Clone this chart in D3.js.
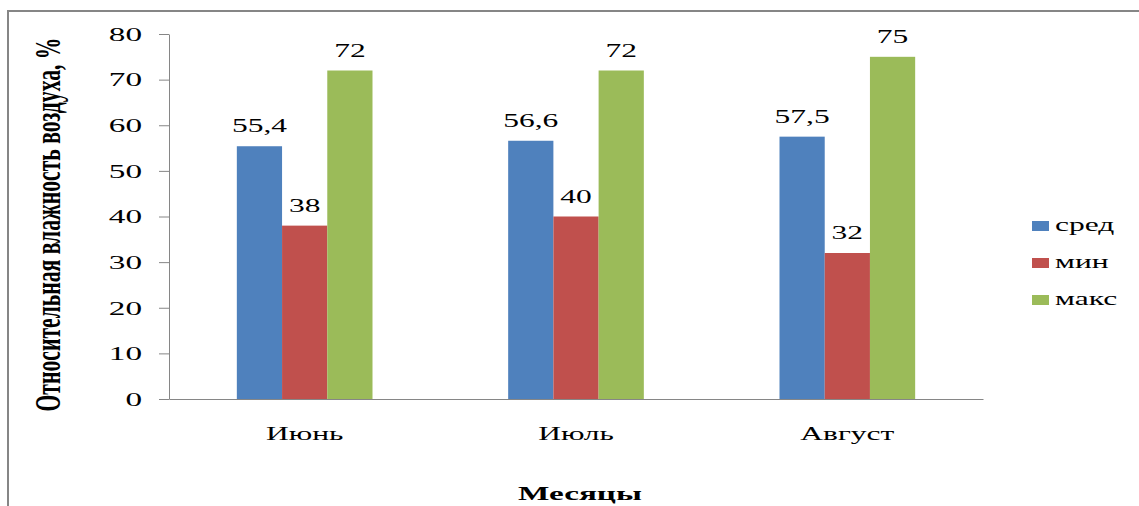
<!DOCTYPE html>
<html>
<head>
<meta charset="utf-8">
<script src="https://cdn.jsdelivr.net/npm/d3@7"></script>
<style>
  html, body { margin: 0; padding: 0; background: #fff; }
  svg { display: block; }
</style>
</head>
<body>
<svg id="chart" width="1139" height="506"></svg>
<script>
const months = ["Июнь", "Июль", "Август"];
const seriesNames = ["сред", "мин", "макс"];
const sredValues = [55.4, 56.6, 57.5];
const minValues = [38, 40, 32];
const maxValues = [72, 72, 75];
const yTicks = [0, 10, 20, 30, 40, 50, 60, 70, 80];
const colors = ["#4F81BD", "#C0504D", "#9BBB59"];
const yTitle = "Относительная влажность воздуха, %";
const xTitle = "Месяцы";

const SX = 1.75; // horizontal stretch of the original picture
const FONT = "'Liberation Serif', 'Times New Roman', Times, serif";

const svg = d3.select("#chart");
const allSeries = [sredValues, minValues, maxValues];

// outer border
svg.append("rect")
  .attr("x", 8).attr("y", 11)
  .attr("width", 1160).attr("height", 520)
  .attr("fill", "none").attr("stroke", "#868686").attr("stroke-width", 2);

const plotLeft = 169, plotRight = 983, plotTop = 34, plotBottom = 399;

const y = d3.scaleLinear().domain([0, 80]).range([plotBottom, plotTop]);
const x = d3.scaleBand().domain(months).range([plotLeft, plotRight]).padding(0);
const x1 = d3.scaleBand().domain(seriesNames)
  .range([x.bandwidth() * 0.25, x.bandwidth() * 0.75]).padding(0);

// y axis
const yAxis = svg.append("g")
  .attr("transform", `translate(${plotLeft},0)`)
  .call(d3.axisLeft(y).tickValues(yTicks).tickSize(10).tickSizeOuter(0));
yAxis.attr("font-family", FONT);
yAxis.select(".domain").attr("stroke", "#868686");
yAxis.selectAll(".tick line").attr("stroke", "#868686");
yAxis.selectAll(".tick text")
  .attr("font-family", FONT)
  .attr("font-size", 19)
  .attr("fill", "#000")
  .attr("x", -27 / SX)
  .attr("dy", "0.33em")
  .attr("transform", `scale(${SX},1)`);

// x axis
const xAxis = svg.append("g")
  .attr("transform", `translate(0,${plotBottom})`)
  .call(d3.axisBottom(x).tickSize(0).tickSizeOuter(0));
xAxis.select(".domain").attr("stroke", "#868686");
xAxis.selectAll(".tick text").remove();

// bars
const groups = svg.append("g").selectAll("g")
  .data(months).join("g")
  .attr("transform", d => `translate(${x(d)},0)`);

groups.selectAll("rect")
  .data((m, i) => seriesNames.map((s, j) => ({ s, v: allSeries[j][i], c: colors[j] })))
  .join("rect")
  .attr("x", d => x1(d.s))
  .attr("width", x1.bandwidth())
  .attr("y", d => y(d.v))
  .attr("height", d => y(0) - y(d.v))
  .attr("fill", d => d.c);

function stretchedText(g, px, py, str, opts = {}) {
  return g.append("text")
    .attr("transform", `translate(${px},${py}) scale(${SX},1)`)
    .attr("text-anchor", opts.anchor || "middle")
    .attr("font-size", opts.size || 18)
    .attr("font-weight", opts.weight || "normal")
    .attr("font-family", FONT)
    .attr("fill", "#000")
    .text(str);
}

// data labels
const labelsG = svg.append("g");
months.forEach((m, i) => {
  seriesNames.forEach((s, j) => {
    const v = allSeries[j][i];
    const cx = x(m) + x1(s) + x1.bandwidth() / 2;
    stretchedText(labelsG, cx, y(v) - 14, String(v).replace(".", ","));
  });
});

// category labels
months.forEach(m => {
  stretchedText(svg, x(m) + x.bandwidth() / 2, 440, m);
});

// x title
stretchedText(svg, (plotLeft + plotRight) / 2 + 4, 500, xTitle, { weight: "bold", size: 19 });

// y title
svg.append("text")
  .attr("transform", `translate(60,${(plotTop + plotBottom) / 2 + 8}) scale(${SX},1) rotate(-90)`)
  .attr("text-anchor", "middle")
  .attr("font-size", 20)
  .attr("font-weight", "bold")
  .attr("font-family", FONT)
  .attr("fill", "#000")
  .attr("textLength", 374)
  .attr("lengthAdjust", "spacingAndGlyphs")
  .text(yTitle);

// legend
const legend = svg.append("g");
seriesNames.forEach((s, j) => {
  const cy = 226 + j * 37;
  legend.append("rect")
    .attr("x", 1032).attr("y", cy - 5)
    .attr("width", 17).attr("height", 10)
    .attr("fill", colors[j]);
  stretchedText(legend, 1055, cy + 5, s, { anchor: "start" });
});
</script>
</body>
</html>
